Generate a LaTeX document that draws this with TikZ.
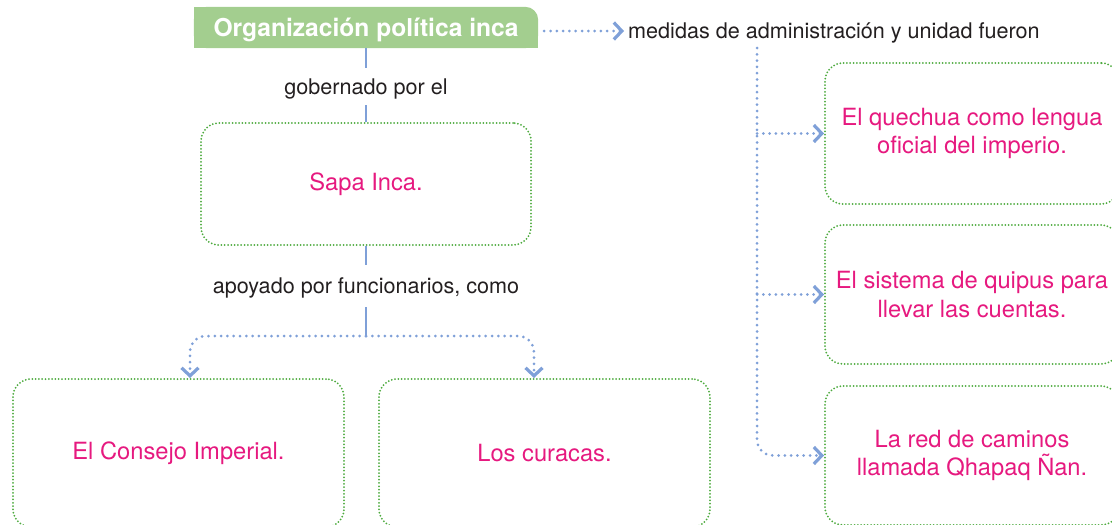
\documentclass[tikz,border=0pt]{standalone}
\usepackage{fontspec}
\setmainfont{TeX Gyre Heros}
\usetikzlibrary{arrows.meta,backgrounds,calc}
\definecolor{tgreen}{HTML}{A3CE8F}
\definecolor{dgreen}{HTML}{4DAA3E}
\definecolor{pinkt}{HTML}{E6197F}
\definecolor{blueline}{HTML}{7FA0D8}
\definecolor{darktext}{HTML}{231F20}
\begin{document}
\begin{tikzpicture}[x=1pt,y=-1pt,
  >={Straight Barb[length=8pt,width=17pt,line width=3.2pt]},
  box/.style={draw=dgreen, line width=2pt, dash pattern=on 0pt off 3.3pt, line cap=round,
    rounded corners=18pt, text=pinkt, font=\fontsize{23.7}{28.5}\selectfont, align=center, inner sep=0pt,
    execute at begin node={\vspace*{5pt}}},
  lab/.style={text=darktext, font=\fontsize{21.6}{26}\selectfont, inner sep=0pt,
    text height=18pt, text depth=3pt},
  bline/.style={draw=blueline, line width=2.8pt},
  bdot/.style={draw=blueline, line width=3pt, dash pattern=on 0pt off 6.3pt, line cap=round}]
\useasboundingbox (0,0) rectangle (1112,525);

% title
\node (title) [minimum width=344pt, minimum height=41pt, inner sep=0pt, text=white,
  text height=18pt, text depth=0pt,
  font=\bfseries\fontsize{24.6}{28}\selectfont] at (366,27.5) {Organización política inca};
\begin{scope}[on background layer]
  \fill[tgreen, rounded corners=13pt] (title.south west) rectangle (title.north east);
  \fill[tgreen] (title.south west) rectangle ([xshift=-20pt]title.north east);
  \fill[tgreen] (title.south west) rectangle (title.east);
\end{scope}

% left branch
\node (lab1) [lab, minimum height=37pt] at (366,86.5) {gobernado por el};
\node (sapa) [box, minimum width=330pt, minimum height=122pt] at (366,184) {Sapa Inca.};
\node (lab2) [lab, minimum height=42pt] at (366,286) {apoyado por funcionarios, como};
\coordinate (junc) at (366,336);
\node (consejo) [box, minimum width=331pt, minimum height=148pt] at (178.5,453) {El Consejo Imperial.};
\node (curacas) [box, minimum width=331pt, minimum height=148pt] at (544.5,453) {Los curacas.};

\draw[bline] (title) -- (lab1);
\draw[bline] (lab1) -- (sapa);
\draw[bline] (sapa) -- (lab2);
\draw[bline] (lab2) -- (junc);
\draw[bdot, ->, rounded corners=16pt] (junc) -| ([xshift=11.5pt]consejo.north);
\draw[bdot, ->, rounded corners=16pt] (junc) -| ([xshift=-10.5pt]curacas.north);

% right branch
\node (med) [lab, anchor=west, inner xsep=4pt] at (624,31) {medidas de administración y unidad fueron};
\coordinate (arrstart) at ($(title.east |- med.west)+(6,0)$);
\draw[bdot, ->] (arrstart) -- (med.west);

\node (q1) [box, minimum width=294pt, minimum height=141pt] at (972,133.5) {El quechua como lengua\\oficial del imperio.};
\node (q2) [box, minimum width=294pt, minimum height=139pt] at (972,294.5) {El sistema de quipus para\\llevar las cuentas.};
\node (q3) [box, minimum width=294pt, minimum height=139pt] at (972,455.5) {La red de caminos\\llamada Qhapaq Ñan.};

\coordinate (vtop) at (757,48);
\coordinate (b1) at (vtop |- q1.west);
\coordinate (b2) at (vtop |- q2.west);
\draw[bdot, ->, rounded corners=16pt] (vtop) |- (q3.west);
\draw[bdot, ->] (b1) -- (q1.west);
\draw[bdot, ->] (b2) -- (q2.west);
\end{tikzpicture}
\end{document}
